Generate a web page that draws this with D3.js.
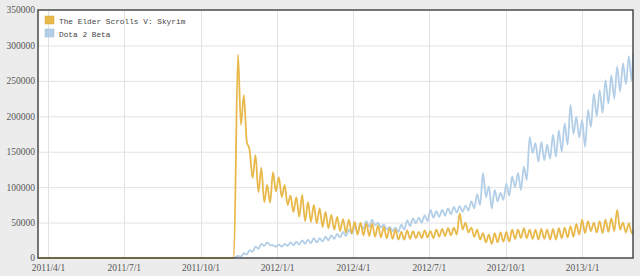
<!DOCTYPE html>
<html>
<head>
<meta charset="utf-8">
<script src="https://cdn.jsdelivr.net/npm/d3@7"></script>
<style>
  body { margin: 0; background: #ececec; }
  svg { display: block; }
</style>
</head>
<body>
<div id="chart"></div>
<script>
// weekly peaks / troughs, starting at the week of 2011/11/15 (thousands of players)
const seriesNames = ["The Elder Scrolls V: Skyrim", "Dota 2 Beta"];
const seriesColors = ["#e8b94a", "#b3cfe8"];
const xTickLabels = ["2011/4/1", "2011/7/1", "2011/10/1", "2012/1/1", "2012/4/1", "2012/7/1", "2012/10/1", "2013/1/1"];
const yTickValues = [0, 50000, 100000, 150000, 200000, 250000, 300000, 350000];

const skyrimHigh = [287, 230, 152, 145, 127, 103, 121, 114, 103, 88, 86, 89, 79, 75, 70, 65, 61, 58, 55, 54,
  51, 50, 49, 49, 46, 44, 42, 40, 37, 39, 38, 37, 39, 38, 40, 41, 42, 43, 63, 50,
  43, 40, 35, 33, 35, 36, 37, 40, 40, 42, 40, 40, 41, 40, 41, 42, 43, 45, 48, 54,
  52, 50, 52, 54, 56, 68, 50, 49];
const skyrimLow = [188, 165, 113, 93, 79, 78, 94, 86, 75, 65, 58, 52, 51, 49, 44, 42, 40, 38, 36, 35,
  33, 32, 31, 30, 29, 28, 27, 26, 26, 27, 28, 28, 29, 28, 30, 31, 32, 33, 40, 36,
  30, 26, 22, 20, 22, 23, 23, 27, 28, 28, 27, 26, 27, 26, 26, 28, 29, 30, 33, 35,
  38, 36, 35, 37, 38, 40, 36, 35];
const dotaHigh = [3, 7, 11, 16, 20, 22, 18, 19, 20, 22, 23, 25, 26, 28, 28, 30, 32, 34, 37, 40,
  44, 48, 52, 54, 50, 47, 44, 43, 47, 53, 56, 57, 60, 68, 66, 68, 70, 72, 73, 74,
  80, 90, 120, 101, 96, 92, 105, 115, 120, 129, 171, 162, 164, 160, 174, 180, 190, 216, 199, 195,
  209, 232, 237, 251, 258, 270, 275, 285];
const dotaLow = [2, 5, 9, 13, 17, 18, 16, 16, 17, 18, 19, 20, 21, 22, 23, 25, 27, 29, 31, 34,
  37, 41, 44, 46, 43, 40, 38, 37, 40, 45, 49, 50, 52, 57, 58, 60, 62, 64, 65, 67,
  70, 75, 86, 70, 80, 82, 88, 100, 96, 110, 148, 136, 138, 140, 143, 150, 160, 175, 170, 157,
  185, 200, 205, 218, 225, 235, 245, 250];
const lastValues = [38, 288]; // 2013/3/3

const width = 640, height = 276;
const margin = {top: 10, right: 7, bottom: 18, left: 38};

const firstDay = new Date(2011, 2, 20);
const releaseDay = new Date(2011, 10, 10);
const gridStart = new Date(2011, 10, 15);
const lastDay = new Date(2013, 2, 3);

function buildSeries(high, low, last) {
  const pts = [{date: firstDay, value: 0}, {date: releaseDay, value: 0}];
  high.forEach((h, k) => {
    pts.push({date: d3.timeHour.offset(gridStart, k * 168), value: h * 1000});
    pts.push({date: d3.timeHour.offset(gridStart, k * 168 + 84), value: low[k] * 1000});
  });
  pts.push({date: lastDay, value: last * 1000});
  return pts;
}

const series = [
  buildSeries(skyrimHigh, skyrimLow, lastValues[0]),
  buildSeries(dotaHigh, dotaLow, lastValues[1])
];

const svg = d3.select("#chart").append("svg").attr("width", width).attr("height", height);

const x = d3.scaleTime().domain([firstDay, lastDay]).range([margin.left, width - margin.right]);
const y = d3.scaleLinear().domain([0, 350000]).range([height - margin.bottom, margin.top]);

const parse = d3.timeParse("%Y/%m/%d");
const xTicks = xTickLabels.map(s => parse(s));

svg.append("rect")
  .attr("x", margin.left).attr("y", margin.top)
  .attr("width", width - margin.left - margin.right)
  .attr("height", height - margin.top - margin.bottom)
  .attr("fill", "#fff");

// grid
svg.append("g").selectAll("line").data(yTickValues.slice(1, -1)).enter().append("line")
  .attr("x1", margin.left).attr("x2", width - margin.right)
  .attr("y1", d => y(d) + 0.5).attr("y2", d => y(d) + 0.5)
  .attr("stroke", "#e2e2e2");
svg.append("g").selectAll("line").data(xTicks).enter().append("line")
  .attr("x1", d => Math.round(x(d)) + 0.5).attr("x2", d => Math.round(x(d)) + 0.5)
  .attr("y1", margin.top).attr("y2", height - margin.bottom)
  .attr("stroke", "#e2e2e2");

const line = d3.line().curve(d3.curveMonotoneX).x(d => x(d.date)).y(d => y(d.value));
[1, 0].forEach(i => {
  svg.append("path").datum(series[i])
    .attr("fill", "none").attr("stroke", seriesColors[i])
    .attr("stroke-width", 1.8).attr("stroke-linejoin", "round")
    .attr("d", line);
});

svg.append("rect")
  .attr("x", margin.left).attr("y", margin.top)
  .attr("width", width - margin.left - margin.right)
  .attr("height", height - margin.top - margin.bottom)
  .attr("fill", "none").attr("stroke", "#4a4a4a").attr("stroke-width", 1.5);

// axes
const yAxis = svg.append("g").attr("transform", `translate(${margin.left - 3},0)`)
  .call(d3.axisLeft(y).tickValues(yTickValues).tickSize(0).tickPadding(0).tickFormat(d3.format("d")));
yAxis.select(".domain").remove();
yAxis.selectAll(".tick text").attr("dy", "0.3em");

const xAxis = svg.append("g").attr("transform", `translate(0,${height - margin.bottom + 2})`)
  .call(d3.axisBottom(x).tickValues(xTicks).tickSize(0).tickPadding(4).tickFormat((d, i) => xTickLabels[i]));
xAxis.select(".domain").remove();

svg.selectAll(".tick text")
  .attr("fill", "#555").attr("font-family", "Liberation Serif, serif").attr("font-size", "9.5px");

// legend
const legend = svg.append("g").attr("transform", `translate(45,16)`);
seriesNames.forEach((name, i) => {
  legend.append("rect").attr("x", 0).attr("y", i * 13).attr("width", 9).attr("height", 8)
    .attr("fill", seriesColors[i]).attr("stroke", d3.color(seriesColors[i]).darker(0.3)).attr("stroke-width", 0.5);
  legend.append("text").attr("x", 14).attr("y", i * 13 + 7.5).text(name)
    .attr("font-family", "Liberation Mono, monospace").attr("font-size", "7.8px").attr("fill", "#444");
});
</script>
</body>
</html>
